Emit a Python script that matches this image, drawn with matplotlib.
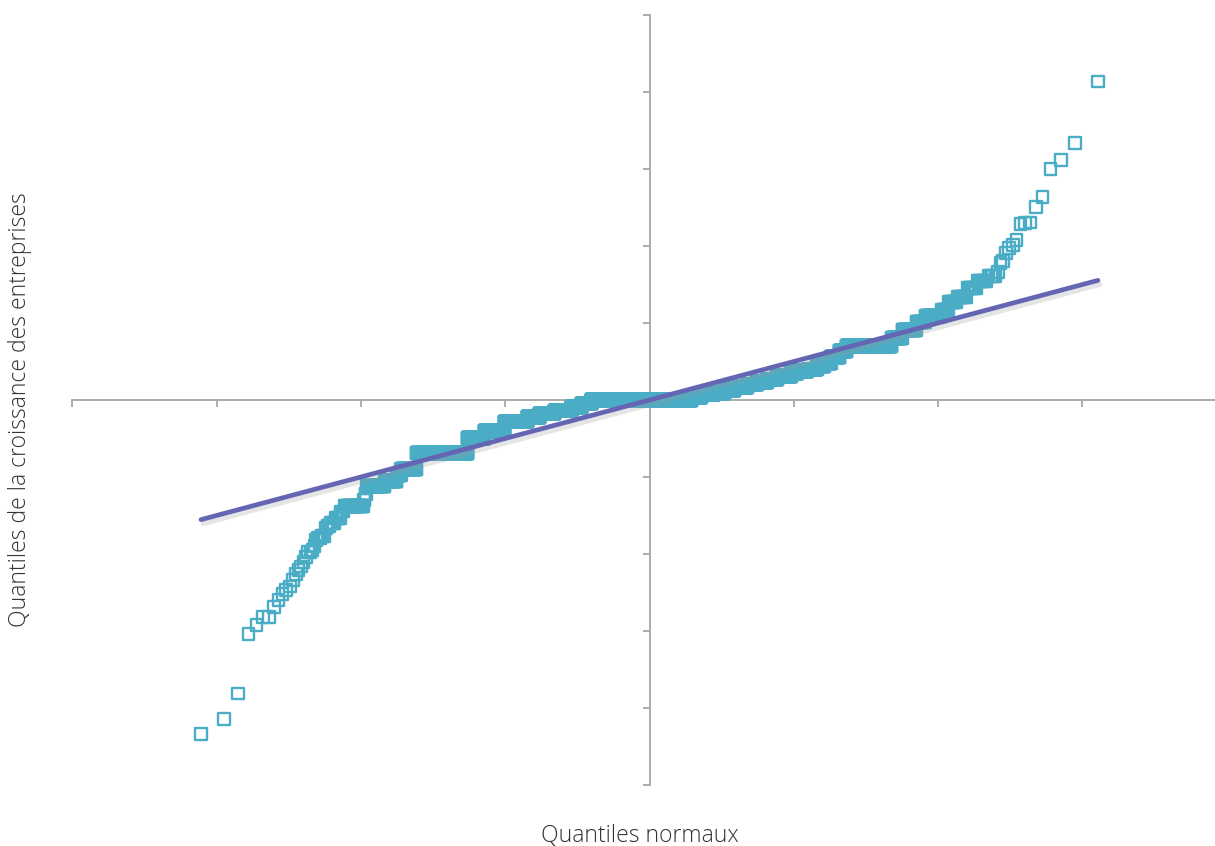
import numpy as np
import matplotlib
matplotlib.use("Agg")
import matplotlib.pyplot as plt
import matplotlib.patheffects as pe
from statistics import NormalDist

# sorted sample (y in axis-tick units)
# lowest individual values
left_tail = [-4.34, -4.14, -3.81, -3.04, -2.92, -2.82, -2.82, -2.69,
             -2.60, -2.52, -2.47, -2.42, -2.34, -2.26, -2.21, -2.16]

# repeated values of the middle of the sample and how often they occur
levels = [-2.10, -2.04, -1.97, -1.95, -1.90, -1.82, -1.79, -1.77,
          -1.66, -1.64, -1.60, -1.53, -1.45, -1.377, -1.30, -1.22,
          -1.117, -1.052, -0.974, -0.896, -0.688, -0.494, -0.403, -0.279,
          -0.221, -0.175, -0.136, -0.091, -0.045, 0.0,
          0.036, 0.071, 0.094, 0.127, 0.171, 0.201, 0.236, 0.266,
          0.309, 0.353, 0.374, 0.396, 0.439, 0.483, 0.558, 0.636,
          0.701, 0.805, 0.909, 1.013, 1.091, 1.169, 1.273, 1.338,
          1.455, 1.545, 1.610]
counts = [1, 1, 2, 1, 1, 1, 2, 3,
          1, 2, 4, 5, 3, 23, 2, 2,
          32, 27, 11, 46, 250, 124, 178, 249,
          149, 206, 256, 161, 169, 1852,
          179, 224, 163, 157, 191, 137, 127, 119,
          150, 59, 91, 82, 53, 48, 54, 41,
          187, 29, 31, 16, 24, 8, 9, 8,
          7, 6, 4]

# highest individual values
right_tail = [1.662, 1.779, 1.805, 1.909, 1.970, 2.013, 2.078, 2.286,
              2.295, 2.305, 2.506, 2.640, 3.000, 3.117, 3.334, 4.134]

# reference line (normal fit)
line_intercept = 0.0
line_slope = 0.433

x_label = "Quantiles normaux"
y_label = "Quantiles de la croissance des entreprises"


def normal_quantiles(n):
    nd = NormalDist()
    return np.array([nd.inv_cdf(i / (n + 1)) for i in range(1, n + 1)])


def main():
    plt.rcParams['font.family'] = ['Open Sans', 'DejaVu Sans']

    sample = np.concatenate([left_tail, np.repeat(levels, counts), right_tail])
    sample = np.sort(sample)
    q = normal_quantiles(len(sample))

    tick = 1.1544
    xmin, xmax = -4 * tick, 4.524
    # px per quantile unit is 125, y axis sits at x = 649.5 px
    left_px = 649.5 + xmin * 125
    fig = plt.figure(figsize=(12.15, 8.46), dpi=100)
    ax = fig.add_axes([left_px / 1215, 61 / 846, (1215 - left_px) / 1215, 770 / 846])

    ax.scatter(q, sample, marker='s', s=70, facecolors='none',
               edgecolors='#4BACC6', linewidths=1.7, zorder=2)

    lx = np.array([q.min(), q.max()])
    ax.plot(lx, line_intercept + line_slope * lx, color='#6466B3', lw=3.4,
            solid_capstyle='round', zorder=3,
            path_effects=[pe.SimpleLineShadow(offset=(1.5, -3), shadow_color='#999999', alpha=0.25),
                          pe.Normal()])

    ax.set_xlim(xmin, xmax)
    ax.set_ylim(-5, 5)
    ax.set_xticks(np.arange(-4, 4) * tick)
    ax.set_yticks(np.arange(-5, 6))
    ax.set_xticklabels([])
    ax.set_yticklabels([])

    for s in ['top', 'right']:
        ax.spines[s].set_visible(False)
    ax.spines['left'].set_position(('data', 0))
    ax.spines['bottom'].set_position(('data', 0))
    for s in ['left', 'bottom']:
        ax.spines[s].set_color('#A6A6A6')
        ax.spines[s].set_linewidth(1.3)
        ax.spines[s].set_zorder(1)
    ax.tick_params(colors='#A6A6A6', width=1.3, length=5, direction='out')

    fig.text(640 / 1215, 1 - 836 / 846, x_label, ha='center', va='center',
             fontsize=16.5, fontweight='light', color='#333333')
    fig.text(20 / 1215, 1 - 410 / 846, y_label, ha='center', va='center',
             rotation=90, fontsize=16.5, fontweight='light', color='#333333')

    fig.savefig('out.png', dpi=100)


if __name__ == "__main__":
    main()
